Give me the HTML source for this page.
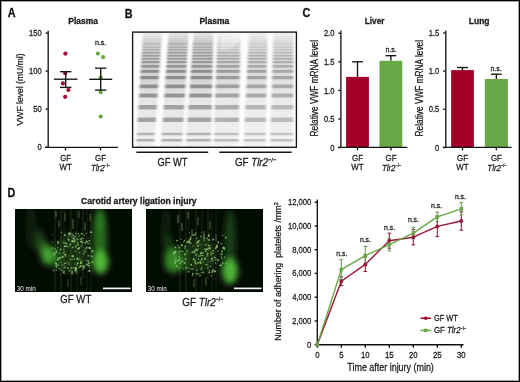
<!DOCTYPE html>
<html><head><meta charset="utf-8"><style>
html,body{margin:0;padding:0;background:#fff;}
svg{display:block;}
text{font-family:"Liberation Sans",sans-serif;stroke:#1a1a1a;stroke-width:0.26px;paint-order:stroke;}
text[font-weight="bold"]{stroke-width:0.3px;}
</style></head><body>
<svg xmlns="http://www.w3.org/2000/svg" width="520" height="382" viewBox="0 0 520 382">
<defs><filter id="soft" x="0" y="0" width="100%" height="100%" filterUnits="userSpaceOnUse"><feGaussianBlur stdDeviation="0.35"/></filter></defs>
<g filter="url(#soft)">
<rect width="520" height="382" fill="#fff"/>
<rect x="0.5" y="0.5" width="519" height="381" fill="none" stroke="#000" stroke-width="1"/><rect x="1.5" y="1.5" width="517" height="379" fill="none" stroke="#000" stroke-opacity="0.35" stroke-width="1"/><text transform="translate(7.7,17.2) scale(0.86,1)" font-size="12.6" text-anchor="start" font-weight="bold" font-style="normal" fill="#111" style="stroke:#111" >A</text><text transform="translate(124.7,17.5) scale(0.86,1)" font-size="12.6" text-anchor="start" font-weight="bold" font-style="normal" fill="#111" style="stroke:#111" >B</text><text transform="translate(302.5,17.0) scale(0.86,1)" font-size="12.6" text-anchor="start" font-weight="bold" font-style="normal" fill="#111" style="stroke:#111" >C</text><text transform="translate(7.6,196.9) scale(0.86,1)" font-size="12.6" text-anchor="start" font-weight="bold" font-style="normal" fill="#111" style="stroke:#111" >D</text><text x="83.1" y="24.0" font-size="8.9" text-anchor="middle" font-weight="bold" font-style="normal" fill="#1a1a1a" textLength="29.6" lengthAdjust="spacingAndGlyphs" >Plasma</text><line x1="48.2" y1="30.8" x2="48.2" y2="147.3" stroke="#151515" stroke-width="1.35"/><line x1="45.6" y1="33.1" x2="48.2" y2="33.1" stroke="#151515" stroke-width="1.35"/><text transform="translate(41.7,36.2) scale(0.87,1)" font-size="8.7" text-anchor="end" font-weight="normal" font-style="normal" fill="#1a1a1a" >150</text><line x1="45.6" y1="71.1" x2="48.2" y2="71.1" stroke="#151515" stroke-width="1.35"/><text transform="translate(41.7,74.19999999999999) scale(0.87,1)" font-size="8.7" text-anchor="end" font-weight="normal" font-style="normal" fill="#1a1a1a" >100</text><line x1="45.6" y1="109.1" x2="48.2" y2="109.1" stroke="#151515" stroke-width="1.35"/><text transform="translate(41.7,112.19999999999999) scale(0.87,1)" font-size="8.7" text-anchor="end" font-weight="normal" font-style="normal" fill="#1a1a1a" >50</text><line x1="45.6" y1="147.2" x2="48.2" y2="147.2" stroke="#151515" stroke-width="1.35"/><text transform="translate(41.7,150.29999999999998) scale(0.87,1)" font-size="8.7" text-anchor="end" font-weight="normal" font-style="normal" fill="#1a1a1a" >0</text><line x1="45.2" y1="147.3" x2="118" y2="147.3" stroke="#151515" stroke-width="1.35"/><line x1="65.5" y1="147.3" x2="65.5" y2="150.4" stroke="#151515" stroke-width="1.35"/><line x1="100.5" y1="147.3" x2="100.5" y2="150.4" stroke="#151515" stroke-width="1.35"/><text transform="translate(65.7,161.0) scale(0.85,1)" font-size="9.3" text-anchor="middle" font-weight="normal" font-style="normal" fill="#1a1a1a" >GF</text><text transform="translate(65.6,170.4) scale(0.85,1)" font-size="9.3" text-anchor="middle" font-weight="normal" font-style="normal" fill="#1a1a1a" >WT</text><text transform="translate(100.5,161.0) scale(0.85,1)" font-size="9.3" text-anchor="middle" font-weight="normal" font-style="normal" fill="#1a1a1a" >GF</text><text transform="translate(91.0,170.9) scale(0.85,1)" font-size="9.3" text-anchor="start" fill="#1a1a1a"><tspan font-style="italic">Tlr2</tspan><tspan font-size="4.65" dy="-3.6">&#8722;/&#8722;</tspan></text><text transform="translate(23.1,89.4) rotate(-90)" x="0" y="0" font-size="9.5" text-anchor="middle" fill="#1a1a1a" textLength="72" lengthAdjust="spacingAndGlyphs">VWF level (mU/ml)</text><text transform="translate(100.6,44.7) scale(0.94,1)" font-size="7.5" text-anchor="middle" font-weight="normal" font-style="normal" fill="#1a1a1a" >n.s.</text><circle cx="65.4" cy="53.6" r="2.1" fill="#a3002b"/><circle cx="65.2" cy="73.2" r="2.1" fill="#a3002b"/><circle cx="62.9" cy="83.4" r="2.1" fill="#a3002b"/><circle cx="68.4" cy="90" r="2.1" fill="#a3002b"/><circle cx="65.2" cy="96.8" r="2.1" fill="#a3002b"/><circle cx="97.9" cy="53.6" r="2.1" fill="#68a846"/><circle cx="103.1" cy="57.2" r="2.1" fill="#68a846"/><circle cx="100.7" cy="77.6" r="2.1" fill="#68a846"/><circle cx="100.7" cy="92.2" r="2.1" fill="#68a846"/><circle cx="100.7" cy="116.5" r="2.1" fill="#68a846"/><line x1="53.900000000000006" y1="79.2" x2="77.5" y2="79.2" stroke="#151515" stroke-width="1.35"/><line x1="65.7" y1="71.7" x2="65.7" y2="87.4" stroke="#151515" stroke-width="1.35"/><line x1="60.0" y1="71.7" x2="71.4" y2="71.7" stroke="#151515" stroke-width="1.35"/><line x1="60.0" y1="87.4" x2="71.4" y2="87.4" stroke="#151515" stroke-width="1.35"/><line x1="89.2" y1="79.3" x2="112.2" y2="79.3" stroke="#151515" stroke-width="1.35"/><line x1="100.7" y1="68.2" x2="100.7" y2="90.1" stroke="#151515" stroke-width="1.35"/><line x1="95.10000000000001" y1="68.2" x2="106.3" y2="68.2" stroke="#151515" stroke-width="1.35"/><line x1="95.10000000000001" y1="90.1" x2="106.3" y2="90.1" stroke="#151515" stroke-width="1.35"/><text x="214.3" y="24.3" font-size="8.9" text-anchor="middle" font-weight="bold" font-style="normal" fill="#1a1a1a" textLength="29.8" lengthAdjust="spacingAndGlyphs" >Plasma</text><defs><filter id="bl" x="-10%" y="-10%" width="120%" height="120%"><feGaussianBlur stdDeviation="1.15 0.5"/></filter><clipPath id="blotclip"><rect x="133" y="32.5" width="163" height="114.5"/></clipPath></defs><rect x="132.6" y="32.1" width="163.8" height="115.2" fill="#fcfcfc"/><g clip-path="url(#blotclip)" filter="url(#bl)"><linearGradient id="base0" x1="0" y1="32.5" x2="0" y2="147" gradientUnits="userSpaceOnUse"><stop offset="0" stop-color="#000" stop-opacity="0.064"/><stop offset="0.083" stop-color="#000" stop-opacity="0.176"/><stop offset="0.24" stop-color="#000" stop-opacity="0.220"/><stop offset="0.4" stop-color="#000" stop-opacity="0.160"/><stop offset="0.59" stop-color="#000" stop-opacity="0.090"/><stop offset="1" stop-color="#000" stop-opacity="0.050"/></linearGradient><polygon points="143.0,32.5 162.0,32.5 154.0,147 136.0,147" fill="url(#base0)"/><polygon points="142.3,43.2 161.2,43.2 161.2,44.5 142.3,44.5" fill="#000" fill-opacity="0.13"/><polygon points="142.1,46.5 161.0,46.5 160.9,47.8 142.1,47.8" fill="#000" fill-opacity="0.14"/><polygon points="142.0,49.2 160.8,49.2 160.7,50.5 141.9,50.5" fill="#000" fill-opacity="0.16"/><polygon points="141.8,52.0 160.6,52.0 160.5,53.4 141.7,53.4" fill="#000" fill-opacity="0.20"/><polygon points="141.6,55.0 160.4,55.0 160.3,56.5 141.5,56.5" fill="#000" fill-opacity="0.22"/><polygon points="141.4,58.0 160.2,58.0 160.1,59.6 141.3,59.6" fill="#000" fill-opacity="0.24"/><polygon points="141.2,61.2 160.0,61.2 159.9,63.0 141.1,63.0" fill="#000" fill-opacity="0.26"/><polygon points="141.0,65.3 159.7,65.3 159.6,67.5 140.9,67.5" fill="#000" fill-opacity="0.30"/><polygon points="140.7,70.1 159.4,70.1 159.2,72.7 140.5,72.7" fill="#000" fill-opacity="0.32"/><polygon points="140.3,76.1 159.0,76.1 158.7,79.3 140.1,79.3" fill="#000" fill-opacity="0.34"/><polygon points="139.8,84.4 158.4,84.4 158.1,88.2 139.6,88.2" fill="#000" fill-opacity="0.34"/><polygon points="139.3,93.4 157.7,93.4 157.5,97.4 139.0,97.4" fill="#000" fill-opacity="0.34"/><polygon points="138.6,105.1 156.9,105.1 156.6,109.5 138.3,109.5" fill="#000" fill-opacity="0.30"/><polygon points="137.8,117.5 156.1,117.5 155.7,122.1 137.5,122.1" fill="#000" fill-opacity="0.30"/><polygon points="136.9,132.7 155.0,132.7 154.8,135.3 136.7,135.3" fill="#000" fill-opacity="0.24"/><polygon points="136.5,139.0 154.6,139.0 154.4,141.6 136.3,141.6" fill="#000" fill-opacity="0.26"/><linearGradient id="base1" x1="0" y1="32.5" x2="0" y2="147" gradientUnits="userSpaceOnUse"><stop offset="0" stop-color="#000" stop-opacity="0.076"/><stop offset="0.083" stop-color="#000" stop-opacity="0.209"/><stop offset="0.24" stop-color="#000" stop-opacity="0.220"/><stop offset="0.4" stop-color="#000" stop-opacity="0.160"/><stop offset="0.59" stop-color="#000" stop-opacity="0.090"/><stop offset="1" stop-color="#000" stop-opacity="0.050"/></linearGradient><polygon points="168.6,32.5 188.5,32.5 182.0,147 161.0,147" fill="url(#base1)"/><polygon points="167.9,43.2 187.9,43.2 187.8,44.5 167.8,44.5" fill="#000" fill-opacity="0.14"/><polygon points="167.7,46.5 187.7,46.5 187.6,47.8 167.6,47.8" fill="#000" fill-opacity="0.16"/><polygon points="167.5,49.2 187.5,49.2 187.5,50.5 167.4,50.5" fill="#000" fill-opacity="0.18"/><polygon points="167.3,52.0 187.4,52.0 187.3,53.4 167.2,53.4" fill="#000" fill-opacity="0.20"/><polygon points="167.1,55.0 187.2,55.0 187.1,56.5 167.0,56.5" fill="#000" fill-opacity="0.22"/><polygon points="166.9,58.0 187.1,58.0 187.0,59.6 166.8,59.6" fill="#000" fill-opacity="0.24"/><polygon points="166.7,61.2 186.9,61.2 186.8,63.0 166.6,63.0" fill="#000" fill-opacity="0.26"/><polygon points="166.4,65.3 186.6,65.3 186.5,67.5 166.3,67.5" fill="#000" fill-opacity="0.30"/><polygon points="166.1,70.1 186.4,70.1 186.2,72.7 165.9,72.7" fill="#000" fill-opacity="0.32"/><polygon points="165.7,76.1 186.0,76.1 185.8,79.3 165.5,79.3" fill="#000" fill-opacity="0.34"/><polygon points="165.2,84.4 185.6,84.4 185.3,88.2 164.9,88.2" fill="#000" fill-opacity="0.34"/><polygon points="164.6,93.4 185.0,93.4 184.8,97.4 164.3,97.4" fill="#000" fill-opacity="0.34"/><polygon points="163.8,105.1 184.4,105.1 184.1,109.5 163.5,109.5" fill="#000" fill-opacity="0.30"/><polygon points="163.0,117.5 183.7,117.5 183.4,122.1 162.7,122.1" fill="#000" fill-opacity="0.30"/><polygon points="161.9,132.7 182.8,132.7 182.7,135.3 161.8,135.3" fill="#000" fill-opacity="0.24"/><polygon points="161.5,139.0 182.5,139.0 182.3,141.6 161.4,141.6" fill="#000" fill-opacity="0.26"/><linearGradient id="base2" x1="0" y1="32.5" x2="0" y2="147" gradientUnits="userSpaceOnUse"><stop offset="0" stop-color="#000" stop-opacity="0.076"/><stop offset="0.083" stop-color="#000" stop-opacity="0.209"/><stop offset="0.24" stop-color="#000" stop-opacity="0.220"/><stop offset="0.4" stop-color="#000" stop-opacity="0.160"/><stop offset="0.59" stop-color="#000" stop-opacity="0.090"/><stop offset="1" stop-color="#000" stop-opacity="0.050"/></linearGradient><polygon points="193.7,32.5 213.4,32.5 210.8,147 185.6,147" fill="url(#base2)"/><polygon points="192.9,43.2 213.2,43.2 213.1,44.5 192.8,44.5" fill="#000" fill-opacity="0.14"/><polygon points="192.7,46.5 213.1,46.5 213.1,47.8 192.6,47.8" fill="#000" fill-opacity="0.16"/><polygon points="192.5,49.2 213.0,49.2 213.0,50.5 192.4,50.5" fill="#000" fill-opacity="0.18"/><polygon points="192.3,52.0 213.0,52.0 212.9,53.4 192.2,53.4" fill="#000" fill-opacity="0.20"/><polygon points="192.1,55.0 212.9,55.0 212.9,56.5 192.0,56.5" fill="#000" fill-opacity="0.22"/><polygon points="191.9,58.0 212.8,58.0 212.8,59.6 191.8,59.6" fill="#000" fill-opacity="0.24"/><polygon points="191.7,61.2 212.7,61.2 212.7,63.0 191.5,63.0" fill="#000" fill-opacity="0.26"/><polygon points="191.4,65.3 212.7,65.3 212.6,67.5 191.2,67.5" fill="#000" fill-opacity="0.30"/><polygon points="191.0,70.1 212.5,70.1 212.5,72.7 190.9,72.7" fill="#000" fill-opacity="0.32"/><polygon points="190.6,76.1 212.4,76.1 212.3,79.3 190.4,79.3" fill="#000" fill-opacity="0.34"/><polygon points="190.0,84.4 212.2,84.4 212.1,88.2 189.8,88.2" fill="#000" fill-opacity="0.34"/><polygon points="189.4,93.4 212.0,93.4 211.9,97.4 189.1,97.4" fill="#000" fill-opacity="0.34"/><polygon points="188.6,105.1 211.8,105.1 211.7,109.5 188.3,109.5" fill="#000" fill-opacity="0.30"/><polygon points="187.7,117.5 211.5,117.5 211.4,122.1 187.4,122.1" fill="#000" fill-opacity="0.30"/><polygon points="186.6,132.7 211.1,132.7 211.1,135.3 186.4,135.3" fill="#000" fill-opacity="0.24"/><polygon points="186.2,139.0 211.0,139.0 210.9,141.6 186.0,141.6" fill="#000" fill-opacity="0.26"/><linearGradient id="base3" x1="0" y1="32.5" x2="0" y2="147" gradientUnits="userSpaceOnUse"><stop offset="0" stop-color="#000" stop-opacity="0.040"/><stop offset="0.083" stop-color="#000" stop-opacity="0.110"/><stop offset="0.24" stop-color="#000" stop-opacity="0.187"/><stop offset="0.4" stop-color="#000" stop-opacity="0.136"/><stop offset="0.59" stop-color="#000" stop-opacity="0.076"/><stop offset="1" stop-color="#000" stop-opacity="0.043"/></linearGradient><polygon points="217.5,32.5 240.5,32.5 238.5,147 213.5,147" fill="url(#base3)"/><polygon points="217.1,43.2 240.3,43.2 240.3,44.5 217.1,44.5" fill="#000" fill-opacity="0.08"/><polygon points="217.0,46.5 240.3,46.5 240.2,47.8 217.0,47.8" fill="#000" fill-opacity="0.10"/><polygon points="216.9,49.2 240.2,49.2 240.2,50.5 216.9,50.5" fill="#000" fill-opacity="0.11"/><polygon points="216.8,52.0 240.2,52.0 240.1,53.4 216.8,53.4" fill="#000" fill-opacity="0.17"/><polygon points="216.7,55.0 240.1,55.0 240.1,56.5 216.7,56.5" fill="#000" fill-opacity="0.19"/><polygon points="216.6,58.0 240.1,58.0 240.0,59.6 216.6,59.6" fill="#000" fill-opacity="0.20"/><polygon points="216.5,61.2 240.0,61.2 240.0,63.0 216.4,63.0" fill="#000" fill-opacity="0.22"/><polygon points="216.4,65.3 239.9,65.3 239.9,67.5 216.3,67.5" fill="#000" fill-opacity="0.26"/><polygon points="216.2,70.1 239.8,70.1 239.8,72.7 216.1,72.7" fill="#000" fill-opacity="0.27"/><polygon points="216.0,76.1 239.7,76.1 239.7,79.3 215.9,79.3" fill="#000" fill-opacity="0.29"/><polygon points="215.7,84.4 239.6,84.4 239.5,88.2 215.6,88.2" fill="#000" fill-opacity="0.29"/><polygon points="215.4,93.4 239.4,93.4 239.4,97.4 215.2,97.4" fill="#000" fill-opacity="0.29"/><polygon points="215.0,105.1 239.2,105.1 239.2,109.5 214.8,109.5" fill="#000" fill-opacity="0.26"/><polygon points="214.5,117.5 239.0,117.5 238.9,122.1 214.4,122.1" fill="#000" fill-opacity="0.26"/><polygon points="214.0,132.7 238.7,132.7 238.7,135.3 213.9,135.3" fill="#000" fill-opacity="0.20"/><polygon points="213.8,139.0 238.6,139.0 238.6,141.6 213.7,141.6" fill="#000" fill-opacity="0.22"/><linearGradient id="base4" x1="0" y1="32.5" x2="0" y2="147" gradientUnits="userSpaceOnUse"><stop offset="0" stop-color="#000" stop-opacity="0.048"/><stop offset="0.083" stop-color="#000" stop-opacity="0.132"/><stop offset="0.24" stop-color="#000" stop-opacity="0.172"/><stop offset="0.4" stop-color="#000" stop-opacity="0.125"/><stop offset="0.59" stop-color="#000" stop-opacity="0.070"/><stop offset="1" stop-color="#000" stop-opacity="0.039"/></linearGradient><polygon points="249.0,32.5 267.3,32.5 265.5,147 243.5,147" fill="url(#base4)"/><polygon points="248.5,43.2 267.1,43.2 267.1,44.5 248.4,44.5" fill="#000" fill-opacity="0.08"/><polygon points="248.3,46.5 267.1,46.5 267.1,47.8 248.3,47.8" fill="#000" fill-opacity="0.10"/><polygon points="248.2,49.2 267.0,49.2 267.0,50.5 248.1,50.5" fill="#000" fill-opacity="0.11"/><polygon points="248.1,52.0 267.0,52.0 267.0,53.4 248.0,53.4" fill="#000" fill-opacity="0.16"/><polygon points="247.9,55.0 266.9,55.0 266.9,56.5 247.8,56.5" fill="#000" fill-opacity="0.17"/><polygon points="247.8,58.0 266.9,58.0 266.9,59.6 247.7,59.6" fill="#000" fill-opacity="0.19"/><polygon points="247.6,61.2 266.8,61.2 266.8,63.0 247.5,63.0" fill="#000" fill-opacity="0.20"/><polygon points="247.4,65.3 266.8,65.3 266.7,67.5 247.3,67.5" fill="#000" fill-opacity="0.23"/><polygon points="247.2,70.1 266.7,70.1 266.7,72.7 247.1,72.7" fill="#000" fill-opacity="0.25"/><polygon points="246.9,76.1 266.6,76.1 266.6,79.3 246.8,79.3" fill="#000" fill-opacity="0.27"/><polygon points="246.5,84.4 266.5,84.4 266.4,88.2 246.3,88.2" fill="#000" fill-opacity="0.27"/><polygon points="246.1,93.4 266.3,93.4 266.3,97.4 245.9,97.4" fill="#000" fill-opacity="0.27"/><polygon points="245.5,105.1 266.2,105.1 266.1,109.5 245.3,109.5" fill="#000" fill-opacity="0.23"/><polygon points="244.9,117.5 266.0,117.5 265.9,122.1 244.7,122.1" fill="#000" fill-opacity="0.23"/><polygon points="244.2,132.7 265.7,132.7 265.7,135.3 244.1,135.3" fill="#000" fill-opacity="0.19"/><polygon points="243.9,139.0 265.6,139.0 265.6,141.6 243.8,141.6" fill="#000" fill-opacity="0.20"/><linearGradient id="base5" x1="0" y1="32.5" x2="0" y2="147" gradientUnits="userSpaceOnUse"><stop offset="0" stop-color="#000" stop-opacity="0.048"/><stop offset="0.083" stop-color="#000" stop-opacity="0.132"/><stop offset="0.24" stop-color="#000" stop-opacity="0.165"/><stop offset="0.4" stop-color="#000" stop-opacity="0.120"/><stop offset="0.59" stop-color="#000" stop-opacity="0.068"/><stop offset="1" stop-color="#000" stop-opacity="0.038"/></linearGradient><polygon points="273.5,32.5 293.5,32.5 293.0,147 270.0,147" fill="url(#base5)"/><polygon points="273.2,43.2 293.5,43.2 293.4,44.5 273.1,44.5" fill="#000" fill-opacity="0.08"/><polygon points="273.1,46.5 293.4,46.5 293.4,47.8 273.0,47.8" fill="#000" fill-opacity="0.09"/><polygon points="273.0,49.2 293.4,49.2 293.4,50.5 272.9,50.5" fill="#000" fill-opacity="0.10"/><polygon points="272.9,52.0 293.4,52.0 293.4,53.4 272.9,53.4" fill="#000" fill-opacity="0.15"/><polygon points="272.8,55.0 293.4,55.0 293.4,56.5 272.8,56.5" fill="#000" fill-opacity="0.17"/><polygon points="272.7,58.0 293.4,58.0 293.4,59.6 272.7,59.6" fill="#000" fill-opacity="0.18"/><polygon points="272.6,61.2 293.4,61.2 293.4,63.0 272.6,63.0" fill="#000" fill-opacity="0.20"/><polygon points="272.5,65.3 293.4,65.3 293.3,67.5 272.4,67.5" fill="#000" fill-opacity="0.22"/><polygon points="272.4,70.1 293.3,70.1 293.3,72.7 272.3,72.7" fill="#000" fill-opacity="0.24"/><polygon points="272.2,76.1 293.3,76.1 293.3,79.3 272.1,79.3" fill="#000" fill-opacity="0.26"/><polygon points="271.9,84.4 293.3,84.4 293.3,88.2 271.8,88.2" fill="#000" fill-opacity="0.26"/><polygon points="271.6,93.4 293.2,93.4 293.2,97.4 271.5,97.4" fill="#000" fill-opacity="0.26"/><polygon points="271.3,105.1 293.2,105.1 293.2,109.5 271.1,109.5" fill="#000" fill-opacity="0.22"/><polygon points="270.9,117.5 293.1,117.5 293.1,122.1 270.8,122.1" fill="#000" fill-opacity="0.22"/><polygon points="270.4,132.7 293.1,132.7 293.1,135.3 270.4,135.3" fill="#000" fill-opacity="0.18"/><polygon points="270.2,139.0 293.0,139.0 293.0,141.6 270.2,141.6" fill="#000" fill-opacity="0.20"/><polygon points="224,32.5 242,32.5 242,36 230,48 222,50" fill="#fff" fill-opacity="0.25"/></g><rect x="132.6" y="32.1" width="163.8" height="115.2" fill="none" stroke="#151515" stroke-width="1.35"/><line x1="136.4" y1="152.2" x2="208.2" y2="152.2" stroke="#151515" stroke-width="1.35"/><line x1="219.3" y1="152.2" x2="291.6" y2="152.2" stroke="#151515" stroke-width="1.35"/><text x="172.4" y="165.6" font-size="10.6" text-anchor="middle" font-weight="normal" font-style="normal" fill="#1a1a1a" textLength="30.0" lengthAdjust="spacingAndGlyphs" >GF WT</text><text transform="translate(235.0,165.8) scale(0.92,1)" font-size="10.6" text-anchor="start" fill="#1a1a1a"><tspan>GF </tspan><tspan font-style="italic">Tlr2</tspan><tspan font-size="6.15" dy="-4.0">&#8722;/&#8722;</tspan></text><text x="374.6" y="23.8" font-size="8.8" text-anchor="middle" font-weight="bold" font-style="normal" fill="#1a1a1a" textLength="19.5" lengthAdjust="spacingAndGlyphs" >Liver</text><line x1="340.9" y1="30.6" x2="340.9" y2="147.5" stroke="#151515" stroke-width="1.35"/><line x1="338.29999999999995" y1="33.2" x2="340.9" y2="33.2" stroke="#151515" stroke-width="1.35"/><text transform="translate(334.4,36.300000000000004) scale(0.87,1)" font-size="8.7" text-anchor="end" font-weight="normal" font-style="normal" fill="#1a1a1a" >2.0</text><line x1="338.29999999999995" y1="61.8" x2="340.9" y2="61.8" stroke="#151515" stroke-width="1.35"/><text transform="translate(334.4,64.89999999999999) scale(0.87,1)" font-size="8.7" text-anchor="end" font-weight="normal" font-style="normal" fill="#1a1a1a" >1.5</text><line x1="338.29999999999995" y1="90.4" x2="340.9" y2="90.4" stroke="#151515" stroke-width="1.35"/><text transform="translate(334.4,93.5) scale(0.87,1)" font-size="8.7" text-anchor="end" font-weight="normal" font-style="normal" fill="#1a1a1a" >1.0</text><line x1="338.29999999999995" y1="119.0" x2="340.9" y2="119.0" stroke="#151515" stroke-width="1.35"/><text transform="translate(334.4,122.1) scale(0.87,1)" font-size="8.7" text-anchor="end" font-weight="normal" font-style="normal" fill="#1a1a1a" >0.5</text><line x1="338.29999999999995" y1="147.5" x2="340.9" y2="147.5" stroke="#151515" stroke-width="1.35"/><text transform="translate(334.4,150.6) scale(0.87,1)" font-size="8.7" text-anchor="end" font-weight="normal" font-style="normal" fill="#1a1a1a" >0</text><line x1="357.5" y1="61.8" x2="357.5" y2="76.9" stroke="#151515" stroke-width="1.35"/><line x1="352.1" y1="61.8" x2="362.9" y2="61.8" stroke="#151515" stroke-width="1.35"/><rect x="346.1" y="76.9" width="22.799999999999955" height="70.6" fill="#a3002b"/><line x1="390.9" y1="55.7" x2="390.9" y2="60.8" stroke="#151515" stroke-width="1.35"/><line x1="385.5" y1="55.7" x2="396.29999999999995" y2="55.7" stroke="#151515" stroke-width="1.35"/><rect x="379.5" y="60.8" width="22.80000000000001" height="86.7" fill="#68a846"/><line x1="337.9" y1="147.4" x2="407.4" y2="147.4" stroke="#151515" stroke-width="1.35"/><line x1="357.5" y1="147.4" x2="357.5" y2="150.4" stroke="#151515" stroke-width="1.35"/><text transform="translate(357.6,161.0) scale(0.85,1)" font-size="9.3" text-anchor="middle" font-weight="normal" font-style="normal" fill="#1a1a1a" >GF</text><line x1="390.9" y1="147.4" x2="390.9" y2="150.4" stroke="#151515" stroke-width="1.35"/><text transform="translate(391.0,161.0) scale(0.85,1)" font-size="9.3" text-anchor="middle" font-weight="normal" font-style="normal" fill="#1a1a1a" >GF</text><text transform="translate(357.5,170.4) scale(0.85,1)" font-size="9.3" text-anchor="middle" font-weight="normal" font-style="normal" fill="#1a1a1a" >WT</text><text transform="translate(381.9,170.9) scale(0.85,1)" font-size="9.3" text-anchor="start" fill="#1a1a1a"><tspan font-style="italic">Tlr2</tspan><tspan font-size="4.65" dy="-3.6">&#8722;/&#8722;</tspan></text><text transform="translate(318.2,88.2) rotate(-90)" font-size="10.1" text-anchor="middle" fill="#1a1a1a" textLength="96.5" lengthAdjust="spacingAndGlyphs">Relative VWF mRNA level</text><text transform="translate(391.1,52.3) scale(0.94,1)" font-size="7.5" text-anchor="middle" font-weight="normal" font-style="normal" fill="#1a1a1a" >n.s.</text><text x="479.2" y="23.8" font-size="8.8" text-anchor="middle" font-weight="bold" font-style="normal" fill="#1a1a1a" textLength="20.7" lengthAdjust="spacingAndGlyphs" >Lung</text><line x1="445.8" y1="30.6" x2="445.8" y2="147.5" stroke="#151515" stroke-width="1.35"/><line x1="443.2" y1="33.0" x2="445.8" y2="33.0" stroke="#151515" stroke-width="1.35"/><text transform="translate(439.3,36.1) scale(0.87,1)" font-size="8.7" text-anchor="end" font-weight="normal" font-style="normal" fill="#1a1a1a" >1.5</text><line x1="443.2" y1="71.1" x2="445.8" y2="71.1" stroke="#151515" stroke-width="1.35"/><text transform="translate(439.3,74.19999999999999) scale(0.87,1)" font-size="8.7" text-anchor="end" font-weight="normal" font-style="normal" fill="#1a1a1a" >1.0</text><line x1="443.2" y1="109.3" x2="445.8" y2="109.3" stroke="#151515" stroke-width="1.35"/><text transform="translate(439.3,112.39999999999999) scale(0.87,1)" font-size="8.7" text-anchor="end" font-weight="normal" font-style="normal" fill="#1a1a1a" >0.5</text><line x1="443.2" y1="147.5" x2="445.8" y2="147.5" stroke="#151515" stroke-width="1.35"/><text transform="translate(439.3,150.6) scale(0.87,1)" font-size="8.7" text-anchor="end" font-weight="normal" font-style="normal" fill="#1a1a1a" >0</text><line x1="462.5" y1="67.5" x2="462.5" y2="70.1" stroke="#151515" stroke-width="1.35"/><line x1="457.1" y1="67.5" x2="467.9" y2="67.5" stroke="#151515" stroke-width="1.35"/><rect x="451.1" y="70.1" width="22.799999999999955" height="77.4" fill="#a3002b"/><line x1="496.35" y1="74.2" x2="496.35" y2="79.0" stroke="#151515" stroke-width="1.35"/><line x1="490.95000000000005" y1="74.2" x2="501.75" y2="74.2" stroke="#151515" stroke-width="1.35"/><rect x="484.8" y="79.0" width="23.099999999999966" height="68.5" fill="#68a846"/><line x1="442.8" y1="147.4" x2="511.6" y2="147.4" stroke="#151515" stroke-width="1.35"/><line x1="462.5" y1="147.4" x2="462.5" y2="150.4" stroke="#151515" stroke-width="1.35"/><text transform="translate(462.6,161.0) scale(0.85,1)" font-size="9.3" text-anchor="middle" font-weight="normal" font-style="normal" fill="#1a1a1a" >GF</text><line x1="496.35" y1="147.4" x2="496.35" y2="150.4" stroke="#151515" stroke-width="1.35"/><text transform="translate(496.45000000000005,161.0) scale(0.85,1)" font-size="9.3" text-anchor="middle" font-weight="normal" font-style="normal" fill="#1a1a1a" >GF</text><text transform="translate(462.5,170.4) scale(0.85,1)" font-size="9.3" text-anchor="middle" font-weight="normal" font-style="normal" fill="#1a1a1a" >WT</text><text transform="translate(487.35,170.9) scale(0.85,1)" font-size="9.3" text-anchor="start" fill="#1a1a1a"><tspan font-style="italic">Tlr2</tspan><tspan font-size="4.65" dy="-3.6">&#8722;/&#8722;</tspan></text><text transform="translate(422.8,88.2) rotate(-90)" font-size="10.1" text-anchor="middle" fill="#1a1a1a" textLength="96.5" lengthAdjust="spacingAndGlyphs">Relative VWF mRNA level</text><text transform="translate(496.1,71.0) scale(0.94,1)" font-size="7.5" text-anchor="middle" font-weight="normal" font-style="normal" fill="#1a1a1a" >n.s.</text><text x="138.8" y="203.7" font-size="9.0" text-anchor="middle" font-weight="bold" font-style="normal" fill="#1a1a1a" textLength="115.6" lengthAdjust="spacingAndGlyphs" >Carotid artery ligation injury</text><defs><filter id="g1" x="-50%" y="-50%" width="200%" height="200%"><feGaussianBlur stdDeviation="4"/></filter><filter id="g2" x="-50%" y="-50%" width="200%" height="200%"><feGaussianBlur stdDeviation="3.2"/></filter><filter id="g3" x="-50%" y="-50%" width="200%" height="200%"><feGaussianBlur stdDeviation="0.55"/></filter><clipPath id="im1"><rect x="15" y="209" width="117" height="83"/></clipPath><clipPath id="im2"><rect x="146" y="209" width="117" height="83"/></clipPath></defs><g clip-path="url(#im1)"><rect x="15" y="209" width="117" height="83" fill="#040704"/><g filter="url(#g2)"><ellipse cx="31" cy="227" rx="6" ry="24" fill="#173a12" fill-opacity="0.5"/><ellipse cx="40" cy="241" rx="5" ry="12" fill="#24601a" fill-opacity="0.6"/><ellipse cx="48" cy="255" rx="7" ry="10" fill="#4fb838" fill-opacity="0.9"/><ellipse cx="43" cy="247" rx="4" ry="8" fill="#3a8a2a" fill-opacity="0.5"/><ellipse cx="56" cy="261" rx="6" ry="8" fill="#2f7f24" fill-opacity="0.55"/><ellipse cx="100" cy="237" rx="7" ry="30" fill="#32902a" fill-opacity="0.75"/><ellipse cx="100" cy="221" rx="5" ry="9" fill="#33902a" fill-opacity="0.55"/><ellipse cx="100.5" cy="262" rx="8" ry="12" fill="#56c63e" fill-opacity="0.9"/><ellipse cx="72" cy="253" rx="16" ry="21" fill="#1f4a16" fill-opacity="0.55"/></g><g filter="url(#g3)"><line x1="55" y1="209" x2="55" y2="292" stroke="#8fc860" stroke-opacity="0.26" stroke-width="0.8"/><line x1="61" y1="209" x2="61" y2="292" stroke="#8fc860" stroke-opacity="0.28" stroke-width="0.8"/><line x1="64" y1="209" x2="64" y2="269" stroke="#8fc860" stroke-opacity="0.22" stroke-width="0.8"/><line x1="71" y1="209" x2="71" y2="292" stroke="#8fc860" stroke-opacity="0.26" stroke-width="0.8"/><line x1="77" y1="209" x2="77" y2="292" stroke="#8fc860" stroke-opacity="0.2" stroke-width="0.8"/><line x1="83" y1="209" x2="83" y2="279" stroke="#8fc860" stroke-opacity="0.26" stroke-width="0.8"/><line x1="87" y1="209" x2="87" y2="292" stroke="#8fc860" stroke-opacity="0.18" stroke-width="0.8"/><line x1="91" y1="209" x2="91" y2="292" stroke="#8fc860" stroke-opacity="0.22" stroke-width="0.8"/><line x1="56" y1="211" x2="56" y2="217" stroke="#a0d880" stroke-opacity="0.5" stroke-width="1.1"/><line x1="59" y1="221" x2="59" y2="227" stroke="#a0d880" stroke-opacity="0.45" stroke-width="1.1"/><line x1="65" y1="213" x2="65" y2="221" stroke="#a0d880" stroke-opacity="0.4" stroke-width="1.1"/><line x1="73" y1="219" x2="73" y2="229" stroke="#a0d880" stroke-opacity="0.45" stroke-width="1.1"/><line x1="79" y1="211" x2="79" y2="218" stroke="#a0d880" stroke-opacity="0.4" stroke-width="1.1"/><line x1="85" y1="223" x2="85" y2="231" stroke="#a0d880" stroke-opacity="0.45" stroke-width="1.1"/><line x1="90" y1="214" x2="90" y2="221" stroke="#a0d880" stroke-opacity="0.4" stroke-width="1.1"/><line x1="68" y1="279" x2="68" y2="287" stroke="#a0d880" stroke-opacity="0.35" stroke-width="1.1"/><line x1="81" y1="277" x2="81" y2="285" stroke="#a0d880" stroke-opacity="0.35" stroke-width="1.1"/><circle cx="56.6" cy="267.6" r="0.73" fill="#98d47c" fill-opacity="0.62"/><circle cx="69.9" cy="259.4" r="0.99" fill="#98d47c" fill-opacity="0.40"/><circle cx="81.3" cy="241.6" r="1.07" fill="#98d47c" fill-opacity="0.85"/><circle cx="90.4" cy="248.0" r="0.71" fill="#98d47c" fill-opacity="0.58"/><circle cx="71.8" cy="241.8" r="0.72" fill="#98d47c" fill-opacity="0.47"/><circle cx="70.3" cy="244.2" r="0.61" fill="#98d47c" fill-opacity="0.81"/><circle cx="74.4" cy="259.0" r="0.69" fill="#98d47c" fill-opacity="0.90"/><circle cx="81.3" cy="261.9" r="1.07" fill="#98d47c" fill-opacity="0.58"/><circle cx="85.9" cy="260.2" r="0.75" fill="#98d47c" fill-opacity="0.67"/><circle cx="75.7" cy="233.5" r="0.72" fill="#98d47c" fill-opacity="0.79"/><circle cx="68.4" cy="239.3" r="0.87" fill="#98d47c" fill-opacity="0.74"/><circle cx="79.3" cy="247.7" r="0.82" fill="#98d47c" fill-opacity="0.63"/><circle cx="83.7" cy="253.9" r="0.80" fill="#98d47c" fill-opacity="0.62"/><circle cx="92.3" cy="256.9" r="0.80" fill="#98d47c" fill-opacity="0.44"/><circle cx="72.1" cy="273.2" r="0.99" fill="#98d47c" fill-opacity="0.65"/><circle cx="87.1" cy="241.8" r="0.86" fill="#98d47c" fill-opacity="0.87"/><circle cx="75.3" cy="251.3" r="0.73" fill="#98d47c" fill-opacity="0.65"/><circle cx="91.2" cy="232.2" r="1.01" fill="#98d47c" fill-opacity="0.84"/><circle cx="82.1" cy="266.0" r="0.86" fill="#98d47c" fill-opacity="0.66"/><circle cx="68.9" cy="234.4" r="1.04" fill="#98d47c" fill-opacity="0.66"/><circle cx="59.4" cy="253.2" r="0.84" fill="#98d47c" fill-opacity="0.55"/><circle cx="65.5" cy="254.6" r="0.91" fill="#98d47c" fill-opacity="0.69"/><circle cx="70.2" cy="233.2" r="0.71" fill="#98d47c" fill-opacity="0.45"/><circle cx="75.5" cy="268.2" r="1.00" fill="#98d47c" fill-opacity="0.79"/><circle cx="85.3" cy="242.7" r="1.02" fill="#98d47c" fill-opacity="0.72"/><circle cx="82.7" cy="242.5" r="0.65" fill="#98d47c" fill-opacity="0.69"/><circle cx="65.5" cy="234.9" r="0.68" fill="#98d47c" fill-opacity="0.64"/><circle cx="58.1" cy="243.5" r="0.96" fill="#98d47c" fill-opacity="0.60"/><circle cx="64.5" cy="251.9" r="0.61" fill="#98d47c" fill-opacity="0.56"/><circle cx="68.7" cy="239.9" r="0.65" fill="#98d47c" fill-opacity="0.84"/><circle cx="72.4" cy="240.8" r="0.90" fill="#98d47c" fill-opacity="0.80"/><circle cx="81.2" cy="238.7" r="0.95" fill="#98d47c" fill-opacity="0.72"/><circle cx="73.9" cy="241.3" r="1.09" fill="#98d47c" fill-opacity="0.79"/><circle cx="72.7" cy="241.4" r="0.92" fill="#98d47c" fill-opacity="0.57"/><circle cx="75.2" cy="245.5" r="0.92" fill="#98d47c" fill-opacity="0.38"/><circle cx="63.5" cy="272.7" r="0.75" fill="#98d47c" fill-opacity="0.82"/><circle cx="64.0" cy="271.5" r="0.97" fill="#98d47c" fill-opacity="0.58"/><circle cx="61.6" cy="232.4" r="0.62" fill="#98d47c" fill-opacity="0.80"/><circle cx="91.4" cy="256.0" r="0.69" fill="#98d47c" fill-opacity="0.83"/><circle cx="66.9" cy="246.6" r="0.70" fill="#98d47c" fill-opacity="0.72"/><circle cx="69.2" cy="240.2" r="0.65" fill="#98d47c" fill-opacity="0.72"/><circle cx="63.4" cy="253.0" r="0.76" fill="#98d47c" fill-opacity="0.83"/><circle cx="64.8" cy="273.5" r="0.77" fill="#98d47c" fill-opacity="0.47"/><circle cx="79.3" cy="267.2" r="1.07" fill="#98d47c" fill-opacity="0.54"/><circle cx="88.1" cy="260.9" r="0.84" fill="#98d47c" fill-opacity="0.89"/><circle cx="60.9" cy="262.5" r="0.64" fill="#98d47c" fill-opacity="0.44"/><circle cx="89.3" cy="240.9" r="0.90" fill="#98d47c" fill-opacity="0.81"/><circle cx="66.5" cy="246.3" r="0.75" fill="#98d47c" fill-opacity="0.83"/><circle cx="76.4" cy="272.1" r="1.04" fill="#98d47c" fill-opacity="0.42"/><circle cx="74.1" cy="236.4" r="0.62" fill="#98d47c" fill-opacity="0.39"/><circle cx="87.4" cy="265.1" r="1.01" fill="#98d47c" fill-opacity="0.54"/><circle cx="76.8" cy="264.8" r="0.79" fill="#98d47c" fill-opacity="0.66"/><circle cx="88.4" cy="255.7" r="1.06" fill="#98d47c" fill-opacity="0.60"/><circle cx="62.6" cy="265.1" r="1.01" fill="#98d47c" fill-opacity="0.36"/><circle cx="79.2" cy="235.9" r="0.66" fill="#98d47c" fill-opacity="0.84"/><circle cx="52.7" cy="242.1" r="0.81" fill="#98d47c" fill-opacity="0.41"/><circle cx="58.0" cy="242.1" r="0.97" fill="#98d47c" fill-opacity="0.41"/><circle cx="89.3" cy="247.9" r="1.09" fill="#98d47c" fill-opacity="0.85"/><circle cx="63.3" cy="242.6" r="0.84" fill="#98d47c" fill-opacity="0.41"/><circle cx="78.4" cy="233.7" r="0.61" fill="#98d47c" fill-opacity="0.89"/><circle cx="63.4" cy="257.1" r="0.82" fill="#98d47c" fill-opacity="0.52"/><circle cx="53.6" cy="270.4" r="1.08" fill="#98d47c" fill-opacity="0.41"/><circle cx="60.0" cy="257.9" r="1.09" fill="#98d47c" fill-opacity="0.65"/><circle cx="79.9" cy="259.8" r="0.73" fill="#98d47c" fill-opacity="0.65"/><circle cx="63.9" cy="242.3" r="0.64" fill="#98d47c" fill-opacity="0.50"/><circle cx="92.3" cy="250.8" r="0.93" fill="#98d47c" fill-opacity="0.70"/><circle cx="90.5" cy="248.4" r="0.75" fill="#98d47c" fill-opacity="0.53"/><circle cx="64.3" cy="267.6" r="1.05" fill="#98d47c" fill-opacity="0.52"/><circle cx="65.0" cy="254.9" r="0.89" fill="#98d47c" fill-opacity="0.68"/><circle cx="54.0" cy="255.2" r="0.64" fill="#98d47c" fill-opacity="0.39"/><circle cx="77.7" cy="244.2" r="1.00" fill="#98d47c" fill-opacity="0.62"/><circle cx="84.4" cy="235.2" r="0.69" fill="#98d47c" fill-opacity="0.78"/><circle cx="55.5" cy="253.6" r="1.06" fill="#98d47c" fill-opacity="0.51"/><circle cx="88.5" cy="238.0" r="0.62" fill="#98d47c" fill-opacity="0.52"/><circle cx="88.9" cy="265.8" r="1.02" fill="#98d47c" fill-opacity="0.76"/><circle cx="80.0" cy="239.5" r="0.82" fill="#98d47c" fill-opacity="0.44"/><circle cx="81.0" cy="260.0" r="0.73" fill="#98d47c" fill-opacity="0.39"/><circle cx="73.7" cy="267.8" r="0.83" fill="#98d47c" fill-opacity="0.57"/><circle cx="65.2" cy="242.8" r="0.61" fill="#98d47c" fill-opacity="0.71"/><circle cx="68.5" cy="256.0" r="0.63" fill="#98d47c" fill-opacity="0.55"/><circle cx="85.8" cy="248.7" r="0.80" fill="#98d47c" fill-opacity="0.69"/><circle cx="72.0" cy="259.3" r="0.82" fill="#98d47c" fill-opacity="0.73"/><circle cx="81.7" cy="242.0" r="0.85" fill="#98d47c" fill-opacity="0.61"/><circle cx="60.5" cy="249.3" r="0.88" fill="#98d47c" fill-opacity="0.85"/><circle cx="89.5" cy="243.6" r="0.92" fill="#98d47c" fill-opacity="0.38"/><circle cx="54.0" cy="253.5" r="1.04" fill="#98d47c" fill-opacity="0.44"/><circle cx="83.2" cy="269.1" r="0.76" fill="#98d47c" fill-opacity="0.73"/><circle cx="86.7" cy="247.6" r="0.95" fill="#98d47c" fill-opacity="0.76"/><circle cx="76.0" cy="268.0" r="1.05" fill="#98d47c" fill-opacity="0.88"/><circle cx="75.0" cy="239.4" r="0.73" fill="#98d47c" fill-opacity="0.47"/><circle cx="74.9" cy="263.8" r="0.63" fill="#98d47c" fill-opacity="0.72"/><circle cx="81.1" cy="246.6" r="0.86" fill="#98d47c" fill-opacity="0.44"/><circle cx="81.7" cy="233.7" r="1.00" fill="#98d47c" fill-opacity="0.70"/><circle cx="62.2" cy="270.3" r="1.08" fill="#98d47c" fill-opacity="0.43"/><circle cx="83.6" cy="267.4" r="0.93" fill="#98d47c" fill-opacity="0.74"/><circle cx="69.7" cy="270.8" r="1.09" fill="#98d47c" fill-opacity="0.56"/><circle cx="84.7" cy="250.2" r="0.68" fill="#98d47c" fill-opacity="0.53"/><circle cx="56.3" cy="270.2" r="0.66" fill="#98d47c" fill-opacity="0.68"/><circle cx="68.1" cy="237.0" r="0.75" fill="#98d47c" fill-opacity="0.49"/><circle cx="69.4" cy="232.9" r="0.91" fill="#98d47c" fill-opacity="0.68"/><circle cx="86.1" cy="240.7" r="0.74" fill="#98d47c" fill-opacity="0.65"/><circle cx="62.5" cy="256.6" r="0.73" fill="#98d47c" fill-opacity="0.73"/><circle cx="84.2" cy="266.0" r="1.09" fill="#98d47c" fill-opacity="0.65"/><circle cx="71.6" cy="267.9" r="0.98" fill="#98d47c" fill-opacity="0.66"/><circle cx="67.1" cy="243.9" r="0.65" fill="#98d47c" fill-opacity="0.79"/><circle cx="56.0" cy="263.4" r="0.87" fill="#98d47c" fill-opacity="0.88"/><circle cx="72.0" cy="256.0" r="0.76" fill="#98d47c" fill-opacity="0.63"/><circle cx="66.0" cy="254.2" r="0.60" fill="#98d47c" fill-opacity="0.59"/><circle cx="69.9" cy="244.8" r="0.80" fill="#98d47c" fill-opacity="0.78"/><circle cx="79.7" cy="252.7" r="0.92" fill="#98d47c" fill-opacity="0.56"/><circle cx="76.1" cy="269.0" r="1.01" fill="#98d47c" fill-opacity="0.63"/><circle cx="92.5" cy="251.4" r="1.02" fill="#98d47c" fill-opacity="0.57"/><circle cx="58.2" cy="258.0" r="0.87" fill="#98d47c" fill-opacity="0.55"/><circle cx="68.0" cy="268.2" r="0.89" fill="#98d47c" fill-opacity="0.75"/><circle cx="88.7" cy="263.4" r="0.85" fill="#98d47c" fill-opacity="0.76"/><circle cx="77.9" cy="259.2" r="0.91" fill="#98d47c" fill-opacity="0.57"/><circle cx="77.4" cy="258.6" r="1.07" fill="#98d47c" fill-opacity="0.78"/><circle cx="86.5" cy="264.2" r="1.01" fill="#98d47c" fill-opacity="0.68"/><circle cx="65.7" cy="243.1" r="0.95" fill="#98d47c" fill-opacity="0.83"/><circle cx="73.9" cy="238.4" r="1.02" fill="#98d47c" fill-opacity="0.62"/><circle cx="70.6" cy="233.9" r="0.86" fill="#98d47c" fill-opacity="0.76"/><circle cx="68.7" cy="246.9" r="0.93" fill="#98d47c" fill-opacity="0.36"/><circle cx="72.3" cy="271.7" r="0.95" fill="#98d47c" fill-opacity="0.57"/><circle cx="79.9" cy="257.4" r="0.70" fill="#98d47c" fill-opacity="0.46"/><circle cx="88.2" cy="243.3" r="0.64" fill="#98d47c" fill-opacity="0.81"/><circle cx="73.0" cy="247.5" r="0.86" fill="#98d47c" fill-opacity="0.76"/><circle cx="58.1" cy="259.4" r="0.96" fill="#98d47c" fill-opacity="0.80"/><circle cx="62.3" cy="257.6" r="0.72" fill="#98d47c" fill-opacity="0.66"/><circle cx="58.2" cy="265.2" r="1.03" fill="#98d47c" fill-opacity="0.53"/><circle cx="86.4" cy="233.3" r="0.91" fill="#98d47c" fill-opacity="0.52"/><circle cx="69.1" cy="264.0" r="0.99" fill="#98d47c" fill-opacity="0.45"/><circle cx="77.3" cy="239.0" r="1.09" fill="#98d47c" fill-opacity="0.59"/><circle cx="89.4" cy="262.6" r="0.90" fill="#98d47c" fill-opacity="0.49"/><circle cx="73.1" cy="237.8" r="0.67" fill="#98d47c" fill-opacity="0.74"/><circle cx="66.2" cy="263.6" r="0.72" fill="#98d47c" fill-opacity="0.74"/><circle cx="81.2" cy="244.8" r="0.65" fill="#98d47c" fill-opacity="0.57"/><circle cx="71.7" cy="236.2" r="0.69" fill="#98d47c" fill-opacity="0.38"/><circle cx="76.1" cy="269.3" r="0.71" fill="#98d47c" fill-opacity="0.37"/><circle cx="80.6" cy="266.2" r="1.08" fill="#98d47c" fill-opacity="0.69"/><circle cx="65.4" cy="267.2" r="0.66" fill="#98d47c" fill-opacity="0.73"/><circle cx="55.0" cy="248.8" r="0.85" fill="#98d47c" fill-opacity="0.56"/><circle cx="58.1" cy="241.7" r="1.01" fill="#98d47c" fill-opacity="0.60"/><circle cx="75.4" cy="240.9" r="0.96" fill="#98d47c" fill-opacity="0.53"/><circle cx="75.9" cy="270.2" r="1.10" fill="#98d47c" fill-opacity="0.38"/><circle cx="84.5" cy="268.0" r="0.76" fill="#98d47c" fill-opacity="0.56"/><circle cx="75.4" cy="270.6" r="0.80" fill="#98d47c" fill-opacity="0.83"/><circle cx="82.9" cy="238.4" r="1.06" fill="#98d47c" fill-opacity="0.36"/><circle cx="57.1" cy="259.9" r="0.63" fill="#98d47c" fill-opacity="0.56"/><circle cx="56.5" cy="251.4" r="1.02" fill="#98d47c" fill-opacity="0.85"/><circle cx="52.5" cy="234.6" r="0.62" fill="#98d47c" fill-opacity="0.50"/><circle cx="77.8" cy="263.3" r="0.94" fill="#98d47c" fill-opacity="0.82"/><circle cx="78.8" cy="248.4" r="0.92" fill="#98d47c" fill-opacity="0.88"/><circle cx="77.9" cy="242.2" r="0.63" fill="#98d47c" fill-opacity="0.86"/><circle cx="75.8" cy="246.7" r="0.90" fill="#98d47c" fill-opacity="0.66"/><circle cx="72.9" cy="234.6" r="0.78" fill="#98d47c" fill-opacity="0.58"/><circle cx="59.4" cy="269.0" r="0.81" fill="#98d47c" fill-opacity="0.71"/><circle cx="81.0" cy="263.2" r="0.96" fill="#98d47c" fill-opacity="0.76"/><circle cx="89.6" cy="267.9" r="0.63" fill="#98d47c" fill-opacity="0.40"/><circle cx="85.1" cy="251.7" r="0.79" fill="#98d47c" fill-opacity="0.89"/><circle cx="52.7" cy="254.3" r="0.82" fill="#98d47c" fill-opacity="0.42"/><circle cx="67.6" cy="261.7" r="1.04" fill="#98d47c" fill-opacity="0.36"/><circle cx="73.0" cy="235.8" r="1.00" fill="#98d47c" fill-opacity="0.40"/><circle cx="52.4" cy="248.1" r="0.97" fill="#98d47c" fill-opacity="0.52"/><circle cx="56.5" cy="265.4" r="1.00" fill="#98d47c" fill-opacity="0.82"/><circle cx="63.8" cy="249.8" r="0.72" fill="#98d47c" fill-opacity="0.66"/><circle cx="64.9" cy="246.2" r="0.99" fill="#98d47c" fill-opacity="0.88"/><circle cx="75.5" cy="236.4" r="0.93" fill="#98d47c" fill-opacity="0.60"/><circle cx="92.5" cy="262.2" r="0.95" fill="#98d47c" fill-opacity="0.64"/><circle cx="57.6" cy="247.6" r="0.86" fill="#98d47c" fill-opacity="0.40"/><circle cx="65.5" cy="256.1" r="0.62" fill="#98d47c" fill-opacity="0.80"/><circle cx="78.3" cy="245.2" r="0.75" fill="#98d47c" fill-opacity="0.54"/><circle cx="64.7" cy="263.4" r="0.85" fill="#98d47c" fill-opacity="0.64"/><circle cx="64.8" cy="234.9" r="1.09" fill="#98d47c" fill-opacity="0.61"/><circle cx="89.3" cy="271.0" r="1.01" fill="#98d47c" fill-opacity="0.86"/><circle cx="73.0" cy="256.2" r="1.10" fill="#98d47c" fill-opacity="0.78"/><circle cx="80.5" cy="263.4" r="0.78" fill="#98d47c" fill-opacity="0.87"/><circle cx="78.0" cy="248.9" r="0.83" fill="#98d47c" fill-opacity="0.89"/><circle cx="73.3" cy="239.0" r="0.67" fill="#98d47c" fill-opacity="0.73"/><circle cx="74.6" cy="270.1" r="0.69" fill="#98d47c" fill-opacity="0.58"/><circle cx="73.9" cy="243.2" r="0.65" fill="#98d47c" fill-opacity="0.49"/></g></g><text x="16.8" y="290.6" font-size="6.6" fill="#f0f0f0" textLength="19" lengthAdjust="spacingAndGlyphs" style="stroke:none">30 min</text><line x1="103" y1="288.4" x2="130.6" y2="288.4" stroke="#f4f4f4" stroke-width="1.7"/><g clip-path="url(#im2)"><rect x="146" y="209" width="117" height="83" fill="#040704"/><g filter="url(#g2)"><ellipse cx="166" cy="227" rx="5" ry="20" fill="#163812" fill-opacity="0.55"/><ellipse cx="173" cy="260" rx="9" ry="13" fill="#3ea030" fill-opacity="0.85"/><ellipse cx="168" cy="243" rx="5" ry="9" fill="#245e1a" fill-opacity="0.45"/><ellipse cx="182" cy="264" rx="6" ry="8" fill="#2f7f24" fill-opacity="0.5"/><ellipse cx="230" cy="239" rx="6" ry="30" fill="#1f601a" fill-opacity="0.65"/><ellipse cx="230" cy="271" rx="8" ry="13" fill="#56c63e" fill-opacity="0.9"/><ellipse cx="200" cy="255" rx="18" ry="18" fill="#1f4a16" fill-opacity="0.55"/></g><g filter="url(#g3)"><line x1="180" y1="209" x2="180" y2="292" stroke="#8fc860" stroke-opacity="0.26" stroke-width="0.8"/><line x1="186" y1="209" x2="186" y2="292" stroke="#8fc860" stroke-opacity="0.28" stroke-width="0.8"/><line x1="189" y1="209" x2="189" y2="269" stroke="#8fc860" stroke-opacity="0.22" stroke-width="0.8"/><line x1="196" y1="209" x2="196" y2="292" stroke="#8fc860" stroke-opacity="0.26" stroke-width="0.8"/><line x1="202" y1="209" x2="202" y2="292" stroke="#8fc860" stroke-opacity="0.2" stroke-width="0.8"/><line x1="208" y1="209" x2="208" y2="279" stroke="#8fc860" stroke-opacity="0.26" stroke-width="0.8"/><line x1="212" y1="209" x2="212" y2="292" stroke="#8fc860" stroke-opacity="0.18" stroke-width="0.8"/><line x1="216" y1="209" x2="216" y2="292" stroke="#8fc860" stroke-opacity="0.22" stroke-width="0.8"/><line x1="178" y1="215" x2="178" y2="223" stroke="#a0d880" stroke-opacity="0.55" stroke-width="1.1"/><line x1="182" y1="223" x2="182" y2="231" stroke="#a0d880" stroke-opacity="0.5" stroke-width="1.1"/><line x1="188" y1="212" x2="188" y2="219" stroke="#a0d880" stroke-opacity="0.45" stroke-width="1.1"/><line x1="192" y1="229" x2="192" y2="236" stroke="#a0d880" stroke-opacity="0.5" stroke-width="1.1"/><line x1="198" y1="217" x2="198" y2="225" stroke="#a0d880" stroke-opacity="0.45" stroke-width="1.1"/><line x1="204" y1="231" x2="204" y2="239" stroke="#a0d880" stroke-opacity="0.5" stroke-width="1.1"/><line x1="210" y1="221" x2="210" y2="229" stroke="#a0d880" stroke-opacity="0.45" stroke-width="1.1"/><line x1="216" y1="234" x2="216" y2="241" stroke="#a0d880" stroke-opacity="0.4" stroke-width="1.1"/><line x1="194" y1="279" x2="194" y2="287" stroke="#a0d880" stroke-opacity="0.4" stroke-width="1.1"/><line x1="206" y1="277" x2="206" y2="286" stroke="#a0d880" stroke-opacity="0.4" stroke-width="1.1"/><circle cx="208.8" cy="245.6" r="0.90" fill="#98d47c" fill-opacity="0.68"/><circle cx="204.2" cy="239.0" r="0.82" fill="#98d47c" fill-opacity="0.57"/><circle cx="211.6" cy="275.8" r="0.87" fill="#98d47c" fill-opacity="0.59"/><circle cx="198.2" cy="246.0" r="0.79" fill="#98d47c" fill-opacity="0.84"/><circle cx="201.3" cy="256.7" r="0.72" fill="#98d47c" fill-opacity="0.36"/><circle cx="190.9" cy="238.0" r="0.86" fill="#98d47c" fill-opacity="0.90"/><circle cx="209.1" cy="240.0" r="1.05" fill="#98d47c" fill-opacity="0.79"/><circle cx="212.2" cy="271.9" r="0.98" fill="#98d47c" fill-opacity="0.78"/><circle cx="192.4" cy="275.2" r="0.68" fill="#98d47c" fill-opacity="0.76"/><circle cx="211.2" cy="252.3" r="0.87" fill="#98d47c" fill-opacity="0.62"/><circle cx="222.1" cy="254.0" r="1.02" fill="#98d47c" fill-opacity="0.54"/><circle cx="203.5" cy="272.5" r="0.96" fill="#98d47c" fill-opacity="0.62"/><circle cx="185.5" cy="246.3" r="0.95" fill="#98d47c" fill-opacity="0.44"/><circle cx="221.2" cy="243.8" r="1.06" fill="#98d47c" fill-opacity="0.52"/><circle cx="200.9" cy="260.7" r="0.89" fill="#98d47c" fill-opacity="0.52"/><circle cx="184.8" cy="254.5" r="1.07" fill="#98d47c" fill-opacity="0.69"/><circle cx="177.1" cy="260.7" r="0.74" fill="#98d47c" fill-opacity="0.47"/><circle cx="218.4" cy="242.8" r="0.71" fill="#98d47c" fill-opacity="0.83"/><circle cx="196.0" cy="263.5" r="0.62" fill="#98d47c" fill-opacity="0.55"/><circle cx="182.9" cy="261.6" r="0.64" fill="#98d47c" fill-opacity="0.88"/><circle cx="187.3" cy="267.8" r="0.68" fill="#98d47c" fill-opacity="0.45"/><circle cx="210.0" cy="249.0" r="0.62" fill="#98d47c" fill-opacity="0.89"/><circle cx="206.0" cy="264.7" r="0.66" fill="#98d47c" fill-opacity="0.54"/><circle cx="175.6" cy="251.7" r="0.98" fill="#98d47c" fill-opacity="0.76"/><circle cx="220.9" cy="265.2" r="1.03" fill="#98d47c" fill-opacity="0.74"/><circle cx="198.6" cy="241.9" r="0.93" fill="#98d47c" fill-opacity="0.52"/><circle cx="179.3" cy="251.7" r="1.04" fill="#98d47c" fill-opacity="0.42"/><circle cx="204.4" cy="249.3" r="0.86" fill="#98d47c" fill-opacity="0.43"/><circle cx="195.8" cy="232.8" r="0.88" fill="#98d47c" fill-opacity="0.43"/><circle cx="179.0" cy="259.9" r="0.85" fill="#98d47c" fill-opacity="0.89"/><circle cx="197.1" cy="243.0" r="0.90" fill="#98d47c" fill-opacity="0.69"/><circle cx="215.6" cy="263.2" r="0.73" fill="#98d47c" fill-opacity="0.58"/><circle cx="201.4" cy="232.2" r="0.62" fill="#98d47c" fill-opacity="0.57"/><circle cx="179.8" cy="263.8" r="0.72" fill="#98d47c" fill-opacity="0.40"/><circle cx="183.5" cy="242.2" r="0.71" fill="#98d47c" fill-opacity="0.64"/><circle cx="198.1" cy="245.6" r="0.92" fill="#98d47c" fill-opacity="0.47"/><circle cx="196.6" cy="254.5" r="0.89" fill="#98d47c" fill-opacity="0.38"/><circle cx="195.7" cy="255.1" r="0.69" fill="#98d47c" fill-opacity="0.40"/><circle cx="215.7" cy="248.1" r="0.86" fill="#98d47c" fill-opacity="0.86"/><circle cx="205.7" cy="244.7" r="1.09" fill="#98d47c" fill-opacity="0.55"/><circle cx="189.9" cy="269.0" r="0.94" fill="#98d47c" fill-opacity="0.36"/><circle cx="197.5" cy="250.1" r="0.84" fill="#98d47c" fill-opacity="0.46"/><circle cx="204.6" cy="235.2" r="0.74" fill="#98d47c" fill-opacity="0.56"/><circle cx="222.6" cy="235.4" r="0.70" fill="#98d47c" fill-opacity="0.66"/><circle cx="194.4" cy="252.4" r="0.98" fill="#98d47c" fill-opacity="0.57"/><circle cx="218.2" cy="260.2" r="1.08" fill="#98d47c" fill-opacity="0.73"/><circle cx="175.3" cy="261.0" r="0.96" fill="#98d47c" fill-opacity="0.62"/><circle cx="192.6" cy="252.1" r="1.00" fill="#98d47c" fill-opacity="0.50"/><circle cx="201.4" cy="253.0" r="1.08" fill="#98d47c" fill-opacity="0.79"/><circle cx="186.0" cy="253.5" r="0.73" fill="#98d47c" fill-opacity="0.59"/><circle cx="209.3" cy="272.4" r="0.89" fill="#98d47c" fill-opacity="0.80"/><circle cx="179.0" cy="247.7" r="1.10" fill="#98d47c" fill-opacity="0.43"/><circle cx="195.7" cy="234.9" r="0.64" fill="#98d47c" fill-opacity="0.84"/><circle cx="189.4" cy="242.2" r="0.94" fill="#98d47c" fill-opacity="0.72"/><circle cx="196.8" cy="255.1" r="0.66" fill="#98d47c" fill-opacity="0.65"/><circle cx="200.9" cy="263.5" r="0.73" fill="#98d47c" fill-opacity="0.84"/><circle cx="198.0" cy="262.9" r="0.80" fill="#98d47c" fill-opacity="0.90"/><circle cx="214.7" cy="257.2" r="0.67" fill="#98d47c" fill-opacity="0.59"/><circle cx="175.5" cy="258.2" r="1.04" fill="#98d47c" fill-opacity="0.45"/><circle cx="200.5" cy="253.2" r="0.80" fill="#98d47c" fill-opacity="0.74"/><circle cx="222.7" cy="263.0" r="0.84" fill="#98d47c" fill-opacity="0.88"/><circle cx="191.2" cy="264.8" r="0.93" fill="#98d47c" fill-opacity="0.77"/><circle cx="218.3" cy="241.9" r="0.91" fill="#98d47c" fill-opacity="0.57"/><circle cx="174.6" cy="252.4" r="0.96" fill="#98d47c" fill-opacity="0.84"/><circle cx="207.8" cy="267.9" r="0.61" fill="#98d47c" fill-opacity="0.87"/><circle cx="211.9" cy="258.7" r="1.05" fill="#98d47c" fill-opacity="0.84"/><circle cx="179.2" cy="267.9" r="0.70" fill="#98d47c" fill-opacity="0.76"/><circle cx="204.5" cy="240.4" r="1.00" fill="#98d47c" fill-opacity="0.43"/><circle cx="205.8" cy="251.1" r="0.73" fill="#98d47c" fill-opacity="0.66"/><circle cx="198.3" cy="241.0" r="1.08" fill="#98d47c" fill-opacity="0.39"/><circle cx="174.2" cy="253.4" r="1.02" fill="#98d47c" fill-opacity="0.71"/><circle cx="213.2" cy="253.3" r="0.94" fill="#98d47c" fill-opacity="0.53"/><circle cx="187.9" cy="254.1" r="0.61" fill="#98d47c" fill-opacity="0.39"/><circle cx="213.2" cy="239.6" r="0.98" fill="#98d47c" fill-opacity="0.78"/><circle cx="195.0" cy="261.7" r="0.99" fill="#98d47c" fill-opacity="0.83"/><circle cx="181.0" cy="239.2" r="0.79" fill="#98d47c" fill-opacity="0.61"/><circle cx="224.3" cy="248.1" r="0.87" fill="#98d47c" fill-opacity="0.56"/><circle cx="197.0" cy="270.3" r="0.75" fill="#98d47c" fill-opacity="0.71"/><circle cx="199.2" cy="255.7" r="1.06" fill="#98d47c" fill-opacity="0.39"/><circle cx="216.9" cy="245.4" r="0.92" fill="#98d47c" fill-opacity="0.79"/><circle cx="208.0" cy="249.3" r="1.02" fill="#98d47c" fill-opacity="0.40"/><circle cx="206.9" cy="249.2" r="0.87" fill="#98d47c" fill-opacity="0.82"/><circle cx="215.5" cy="259.7" r="0.75" fill="#98d47c" fill-opacity="0.48"/><circle cx="197.8" cy="242.2" r="0.74" fill="#98d47c" fill-opacity="0.88"/><circle cx="193.0" cy="246.0" r="0.64" fill="#98d47c" fill-opacity="0.60"/><circle cx="182.7" cy="251.4" r="0.75" fill="#98d47c" fill-opacity="0.84"/><circle cx="221.9" cy="251.4" r="0.92" fill="#98d47c" fill-opacity="0.86"/><circle cx="191.0" cy="236.4" r="0.72" fill="#98d47c" fill-opacity="0.45"/><circle cx="209.3" cy="248.4" r="0.78" fill="#98d47c" fill-opacity="0.79"/><circle cx="186.1" cy="267.6" r="0.92" fill="#98d47c" fill-opacity="0.57"/><circle cx="216.8" cy="247.1" r="1.04" fill="#98d47c" fill-opacity="0.86"/><circle cx="200.1" cy="262.4" r="1.07" fill="#98d47c" fill-opacity="0.76"/><circle cx="213.1" cy="270.2" r="1.07" fill="#98d47c" fill-opacity="0.76"/><circle cx="208.9" cy="248.2" r="0.80" fill="#98d47c" fill-opacity="0.45"/><circle cx="223.8" cy="247.6" r="0.84" fill="#98d47c" fill-opacity="0.84"/><circle cx="175.5" cy="247.4" r="0.78" fill="#98d47c" fill-opacity="0.85"/><circle cx="219.9" cy="265.5" r="0.82" fill="#98d47c" fill-opacity="0.65"/><circle cx="186.3" cy="268.7" r="0.79" fill="#98d47c" fill-opacity="0.51"/><circle cx="207.2" cy="238.6" r="0.76" fill="#98d47c" fill-opacity="0.86"/><circle cx="187.1" cy="250.5" r="0.73" fill="#98d47c" fill-opacity="0.54"/><circle cx="186.8" cy="242.6" r="0.91" fill="#98d47c" fill-opacity="0.54"/><circle cx="193.4" cy="265.8" r="0.63" fill="#98d47c" fill-opacity="0.43"/><circle cx="218.2" cy="250.9" r="0.99" fill="#98d47c" fill-opacity="0.42"/><circle cx="201.2" cy="269.2" r="0.77" fill="#98d47c" fill-opacity="0.77"/><circle cx="205.7" cy="249.4" r="1.10" fill="#98d47c" fill-opacity="0.57"/><circle cx="198.6" cy="259.3" r="0.76" fill="#98d47c" fill-opacity="0.81"/><circle cx="205.1" cy="257.9" r="0.87" fill="#98d47c" fill-opacity="0.89"/><circle cx="195.4" cy="255.1" r="0.62" fill="#98d47c" fill-opacity="0.41"/><circle cx="225.8" cy="237.6" r="0.94" fill="#98d47c" fill-opacity="0.85"/><circle cx="178.0" cy="245.5" r="1.00" fill="#98d47c" fill-opacity="0.35"/><circle cx="179.5" cy="247.4" r="0.69" fill="#98d47c" fill-opacity="0.43"/><circle cx="208.8" cy="236.0" r="1.09" fill="#98d47c" fill-opacity="0.71"/><circle cx="199.0" cy="256.6" r="0.67" fill="#98d47c" fill-opacity="0.63"/><circle cx="177.1" cy="240.8" r="1.01" fill="#98d47c" fill-opacity="0.64"/><circle cx="209.5" cy="270.5" r="0.67" fill="#98d47c" fill-opacity="0.62"/><circle cx="193.7" cy="259.4" r="1.03" fill="#98d47c" fill-opacity="0.85"/><circle cx="211.3" cy="254.3" r="1.06" fill="#98d47c" fill-opacity="0.44"/><circle cx="184.9" cy="248.6" r="0.75" fill="#98d47c" fill-opacity="0.59"/><circle cx="196.2" cy="249.5" r="1.00" fill="#98d47c" fill-opacity="0.80"/><circle cx="203.2" cy="252.8" r="0.74" fill="#98d47c" fill-opacity="0.77"/><circle cx="210.4" cy="261.0" r="0.62" fill="#98d47c" fill-opacity="0.65"/><circle cx="184.5" cy="240.6" r="0.89" fill="#98d47c" fill-opacity="0.70"/><circle cx="206.5" cy="264.7" r="0.95" fill="#98d47c" fill-opacity="0.61"/><circle cx="176.5" cy="266.0" r="1.02" fill="#98d47c" fill-opacity="0.68"/><circle cx="207.1" cy="255.9" r="0.69" fill="#98d47c" fill-opacity="0.88"/><circle cx="189.2" cy="241.2" r="1.01" fill="#98d47c" fill-opacity="0.74"/><circle cx="188.4" cy="271.7" r="0.88" fill="#98d47c" fill-opacity="0.58"/><circle cx="195.6" cy="263.7" r="0.83" fill="#98d47c" fill-opacity="0.71"/><circle cx="180.3" cy="262.9" r="0.74" fill="#98d47c" fill-opacity="0.85"/><circle cx="185.1" cy="246.7" r="0.87" fill="#98d47c" fill-opacity="0.57"/><circle cx="201.3" cy="272.6" r="0.70" fill="#98d47c" fill-opacity="0.77"/><circle cx="210.1" cy="266.6" r="0.82" fill="#98d47c" fill-opacity="0.60"/><circle cx="192.0" cy="252.8" r="0.73" fill="#98d47c" fill-opacity="0.45"/><circle cx="198.8" cy="240.5" r="0.83" fill="#98d47c" fill-opacity="0.67"/><circle cx="190.1" cy="239.5" r="0.90" fill="#98d47c" fill-opacity="0.82"/><circle cx="185.6" cy="259.1" r="0.93" fill="#98d47c" fill-opacity="0.84"/><circle cx="209.5" cy="245.5" r="0.70" fill="#98d47c" fill-opacity="0.81"/><circle cx="189.6" cy="232.6" r="0.70" fill="#98d47c" fill-opacity="0.52"/><circle cx="190.6" cy="243.3" r="0.96" fill="#98d47c" fill-opacity="0.54"/><circle cx="196.9" cy="250.5" r="1.02" fill="#98d47c" fill-opacity="0.36"/><circle cx="204.1" cy="237.8" r="0.68" fill="#98d47c" fill-opacity="0.68"/><circle cx="193.5" cy="234.9" r="0.89" fill="#98d47c" fill-opacity="0.85"/><circle cx="207.5" cy="253.8" r="1.00" fill="#98d47c" fill-opacity="0.85"/><circle cx="181.9" cy="245.2" r="1.08" fill="#98d47c" fill-opacity="0.86"/><circle cx="184.6" cy="263.0" r="1.04" fill="#98d47c" fill-opacity="0.68"/><circle cx="210.5" cy="255.1" r="0.72" fill="#98d47c" fill-opacity="0.47"/><circle cx="177.2" cy="261.3" r="0.67" fill="#98d47c" fill-opacity="0.69"/><circle cx="194.3" cy="251.2" r="1.09" fill="#98d47c" fill-opacity="0.57"/><circle cx="198.7" cy="248.7" r="0.71" fill="#98d47c" fill-opacity="0.47"/><circle cx="201.7" cy="268.0" r="0.65" fill="#98d47c" fill-opacity="0.87"/><circle cx="209.1" cy="234.4" r="0.95" fill="#98d47c" fill-opacity="0.57"/><circle cx="200.8" cy="236.4" r="0.86" fill="#98d47c" fill-opacity="0.64"/><circle cx="214.7" cy="257.6" r="0.95" fill="#98d47c" fill-opacity="0.75"/><circle cx="202.0" cy="259.1" r="0.92" fill="#98d47c" fill-opacity="0.87"/><circle cx="179.3" cy="256.6" r="0.64" fill="#98d47c" fill-opacity="0.72"/><circle cx="196.7" cy="238.2" r="0.76" fill="#98d47c" fill-opacity="0.71"/><circle cx="198.6" cy="273.6" r="0.78" fill="#98d47c" fill-opacity="0.54"/><circle cx="222.0" cy="258.7" r="0.65" fill="#98d47c" fill-opacity="0.78"/><circle cx="192.9" cy="273.7" r="0.92" fill="#98d47c" fill-opacity="0.79"/><circle cx="220.6" cy="254.4" r="1.08" fill="#98d47c" fill-opacity="0.36"/><circle cx="191.7" cy="268.9" r="0.60" fill="#98d47c" fill-opacity="0.72"/><circle cx="226.0" cy="263.5" r="0.64" fill="#98d47c" fill-opacity="0.65"/><circle cx="205.7" cy="251.2" r="0.81" fill="#98d47c" fill-opacity="0.78"/><circle cx="189.3" cy="271.8" r="0.62" fill="#98d47c" fill-opacity="0.49"/><circle cx="215.0" cy="271.4" r="0.80" fill="#98d47c" fill-opacity="0.85"/><circle cx="179.8" cy="258.3" r="0.63" fill="#98d47c" fill-opacity="0.48"/><circle cx="200.0" cy="244.4" r="0.93" fill="#98d47c" fill-opacity="0.38"/><circle cx="200.9" cy="255.2" r="0.80" fill="#98d47c" fill-opacity="0.85"/><circle cx="180.6" cy="250.8" r="0.83" fill="#98d47c" fill-opacity="0.56"/><circle cx="224.6" cy="257.2" r="0.86" fill="#98d47c" fill-opacity="0.59"/><circle cx="196.7" cy="273.8" r="1.00" fill="#98d47c" fill-opacity="0.71"/><circle cx="182.4" cy="258.2" r="0.66" fill="#98d47c" fill-opacity="0.54"/><circle cx="175.2" cy="263.0" r="0.92" fill="#98d47c" fill-opacity="0.66"/><circle cx="187.0" cy="251.5" r="0.83" fill="#98d47c" fill-opacity="0.58"/><circle cx="188.0" cy="241.7" r="0.98" fill="#98d47c" fill-opacity="0.87"/><circle cx="216.7" cy="259.3" r="0.61" fill="#98d47c" fill-opacity="0.52"/><circle cx="203.6" cy="262.2" r="0.72" fill="#98d47c" fill-opacity="0.74"/><circle cx="193.0" cy="269.3" r="0.83" fill="#98d47c" fill-opacity="0.71"/><circle cx="202.9" cy="255.5" r="0.83" fill="#98d47c" fill-opacity="0.87"/><circle cx="213.2" cy="250.5" r="0.85" fill="#98d47c" fill-opacity="0.84"/><circle cx="212.8" cy="260.7" r="1.08" fill="#98d47c" fill-opacity="0.41"/><circle cx="205.1" cy="259.5" r="0.83" fill="#98d47c" fill-opacity="0.88"/><circle cx="224.3" cy="249.2" r="0.91" fill="#98d47c" fill-opacity="0.77"/><circle cx="210.2" cy="248.0" r="1.00" fill="#98d47c" fill-opacity="0.54"/><circle cx="181.6" cy="261.2" r="0.92" fill="#98d47c" fill-opacity="0.57"/><circle cx="199.9" cy="275.5" r="1.00" fill="#98d47c" fill-opacity="0.57"/><circle cx="221.4" cy="257.1" r="0.80" fill="#98d47c" fill-opacity="0.71"/><circle cx="214.7" cy="271.4" r="0.94" fill="#98d47c" fill-opacity="0.72"/><circle cx="194.8" cy="233.8" r="0.83" fill="#98d47c" fill-opacity="0.41"/><circle cx="223.0" cy="247.9" r="0.90" fill="#98d47c" fill-opacity="0.75"/><circle cx="183.3" cy="268.7" r="0.76" fill="#98d47c" fill-opacity="0.39"/></g></g><text x="147.8" y="290.6" font-size="6.6" fill="#f0f0f0" textLength="19" lengthAdjust="spacingAndGlyphs" style="stroke:none">30 min</text><line x1="234" y1="288.4" x2="261.6" y2="288.4" stroke="#f4f4f4" stroke-width="1.7"/><text x="75.8" y="303.1" font-size="11.0" text-anchor="middle" font-weight="normal" font-style="normal" fill="#1a1a1a" textLength="30.9" lengthAdjust="spacingAndGlyphs" >GF WT</text><text transform="translate(182.3,305.6) scale(0.9,1)" font-size="11.0" text-anchor="start" fill="#1a1a1a"><tspan>GF </tspan><tspan font-style="italic">Tlr2</tspan><tspan font-size="5.72" dy="-4.4">&#8722;/&#8722;</tspan></text><line x1="317.3" y1="199.6" x2="317.3" y2="344.7" stroke="#111" stroke-width="1.35"/><line x1="314.6" y1="344.70" x2="317.3" y2="344.70" stroke="#111" stroke-width="1.35"/><text transform="translate(311.3,347.7) scale(0.88,1)" font-size="8.7" text-anchor="end" font-weight="normal" font-style="normal" fill="#1a1a1a" >0</text><line x1="314.6" y1="320.95" x2="317.3" y2="320.95" stroke="#111" stroke-width="1.35"/><text transform="translate(311.3,323.95) scale(0.88,1)" font-size="8.7" text-anchor="end" font-weight="normal" font-style="normal" fill="#1a1a1a" >2,000</text><line x1="314.6" y1="297.20" x2="317.3" y2="297.20" stroke="#111" stroke-width="1.35"/><text transform="translate(311.3,300.2) scale(0.88,1)" font-size="8.7" text-anchor="end" font-weight="normal" font-style="normal" fill="#1a1a1a" >4,000</text><line x1="314.6" y1="273.45" x2="317.3" y2="273.45" stroke="#111" stroke-width="1.35"/><text transform="translate(311.3,276.45) scale(0.88,1)" font-size="8.7" text-anchor="end" font-weight="normal" font-style="normal" fill="#1a1a1a" >6,000</text><line x1="314.6" y1="249.70" x2="317.3" y2="249.70" stroke="#111" stroke-width="1.35"/><text transform="translate(311.3,252.7) scale(0.88,1)" font-size="8.7" text-anchor="end" font-weight="normal" font-style="normal" fill="#1a1a1a" >8,000</text><line x1="314.6" y1="225.95" x2="317.3" y2="225.95" stroke="#111" stroke-width="1.35"/><text transform="translate(311.3,228.95) scale(0.88,1)" font-size="8.7" text-anchor="end" font-weight="normal" font-style="normal" fill="#1a1a1a" >10,000</text><line x1="314.6" y1="202.20" x2="317.3" y2="202.20" stroke="#111" stroke-width="1.35"/><text transform="translate(311.3,205.2) scale(0.88,1)" font-size="8.7" text-anchor="end" font-weight="normal" font-style="normal" fill="#1a1a1a" >12,000</text><line x1="316.7" y1="344.7" x2="463.6" y2="344.7" stroke="#111" stroke-width="1.35"/><line x1="317.30" y1="344.7" x2="317.30" y2="347.7" stroke="#111" stroke-width="1.35"/><text transform="translate(317.30,358.3) scale(0.87,1)" font-size="8.9" text-anchor="middle" font-weight="normal" font-style="normal" fill="#1a1a1a" >0</text><line x1="341.30" y1="344.7" x2="341.30" y2="347.7" stroke="#111" stroke-width="1.35"/><text transform="translate(341.30,358.3) scale(0.87,1)" font-size="8.9" text-anchor="middle" font-weight="normal" font-style="normal" fill="#1a1a1a" >5</text><line x1="365.30" y1="344.7" x2="365.30" y2="347.7" stroke="#111" stroke-width="1.35"/><text transform="translate(365.30,358.3) scale(0.87,1)" font-size="8.9" text-anchor="middle" font-weight="normal" font-style="normal" fill="#1a1a1a" >10</text><line x1="389.30" y1="344.7" x2="389.30" y2="347.7" stroke="#111" stroke-width="1.35"/><text transform="translate(389.30,358.3) scale(0.87,1)" font-size="8.9" text-anchor="middle" font-weight="normal" font-style="normal" fill="#1a1a1a" >15</text><line x1="413.30" y1="344.7" x2="413.30" y2="347.7" stroke="#111" stroke-width="1.35"/><text transform="translate(413.30,358.3) scale(0.87,1)" font-size="8.9" text-anchor="middle" font-weight="normal" font-style="normal" fill="#1a1a1a" >20</text><line x1="437.30" y1="344.7" x2="437.30" y2="347.7" stroke="#111" stroke-width="1.35"/><text transform="translate(437.30,358.3) scale(0.87,1)" font-size="8.9" text-anchor="middle" font-weight="normal" font-style="normal" fill="#1a1a1a" >25</text><line x1="461.30" y1="344.7" x2="461.30" y2="347.7" stroke="#111" stroke-width="1.35"/><text transform="translate(461.30,358.3) scale(0.87,1)" font-size="8.9" text-anchor="middle" font-weight="normal" font-style="normal" fill="#1a1a1a" >30</text><text x="390.6" y="371.0" font-size="10.1" text-anchor="middle" font-weight="normal" font-style="normal" fill="#1a1a1a" textLength="86.5" lengthAdjust="spacingAndGlyphs" >Time after injury (min)</text><text transform="translate(281.3,271.5) rotate(-90)" font-size="9.8" text-anchor="middle" fill="#1a1a1a" textLength="138.5" lengthAdjust="spacingAndGlyphs" xml:space="preserve">Number of adhering  platelets /mm<tspan font-size="6.2" dy="-3.8">2</tspan></text><line x1="341.30" y1="276.81" x2="341.30" y2="285.60" stroke="#862040" stroke-width="1.1"/><line x1="339.50" y1="276.81" x2="343.10" y2="276.81" stroke="#862040" stroke-width="1.1"/><line x1="339.50" y1="285.60" x2="343.10" y2="285.60" stroke="#862040" stroke-width="1.1"/><line x1="365.30" y1="257.28" x2="365.30" y2="271.53" stroke="#862040" stroke-width="1.1"/><line x1="363.50" y1="257.28" x2="367.10" y2="257.28" stroke="#862040" stroke-width="1.1"/><line x1="363.50" y1="271.53" x2="367.10" y2="271.53" stroke="#862040" stroke-width="1.1"/><line x1="389.30" y1="233.19" x2="389.30" y2="248.20" stroke="#862040" stroke-width="1.1"/><line x1="387.50" y1="233.19" x2="391.10" y2="233.19" stroke="#862040" stroke-width="1.1"/><line x1="387.50" y1="248.20" x2="391.10" y2="248.20" stroke="#862040" stroke-width="1.1"/><line x1="413.30" y1="229.48" x2="413.30" y2="244.91" stroke="#862040" stroke-width="1.1"/><line x1="411.50" y1="229.48" x2="415.10" y2="229.48" stroke="#862040" stroke-width="1.1"/><line x1="411.50" y1="244.91" x2="415.10" y2="244.91" stroke="#862040" stroke-width="1.1"/><line x1="437.30" y1="216.19" x2="437.30" y2="236.61" stroke="#862040" stroke-width="1.1"/><line x1="435.50" y1="216.19" x2="439.10" y2="216.19" stroke="#862040" stroke-width="1.1"/><line x1="435.50" y1="236.61" x2="439.10" y2="236.61" stroke="#862040" stroke-width="1.1"/><line x1="461.30" y1="211.79" x2="461.30" y2="230.20" stroke="#862040" stroke-width="1.1"/><line x1="459.50" y1="211.79" x2="463.10" y2="211.79" stroke="#862040" stroke-width="1.1"/><line x1="459.50" y1="230.20" x2="463.10" y2="230.20" stroke="#862040" stroke-width="1.1"/><polyline points="317.30,344.70 341.30,281.20 365.30,264.40 389.30,240.70 413.30,237.20 437.30,226.40 461.30,221.00" fill="none" stroke="#9a1338" stroke-width="1.4" stroke-linejoin="round"/><line x1="341.30" y1="259.70" x2="341.30" y2="279.51" stroke="#6f9c5c" stroke-width="1.1"/><line x1="339.50" y1="259.70" x2="343.10" y2="259.70" stroke="#6f9c5c" stroke-width="1.1"/><line x1="339.50" y1="279.51" x2="343.10" y2="279.51" stroke="#6f9c5c" stroke-width="1.1"/><line x1="365.30" y1="246.43" x2="365.30" y2="264.96" stroke="#6f9c5c" stroke-width="1.1"/><line x1="363.50" y1="246.43" x2="367.10" y2="246.43" stroke="#6f9c5c" stroke-width="1.1"/><line x1="363.50" y1="264.96" x2="367.10" y2="264.96" stroke="#6f9c5c" stroke-width="1.1"/><line x1="389.30" y1="238.30" x2="389.30" y2="250.89" stroke="#6f9c5c" stroke-width="1.1"/><line x1="387.50" y1="238.30" x2="391.10" y2="238.30" stroke="#6f9c5c" stroke-width="1.1"/><line x1="387.50" y1="250.89" x2="391.10" y2="250.89" stroke="#6f9c5c" stroke-width="1.1"/><line x1="413.30" y1="227.28" x2="413.30" y2="238.92" stroke="#6f9c5c" stroke-width="1.1"/><line x1="411.50" y1="227.28" x2="415.10" y2="227.28" stroke="#6f9c5c" stroke-width="1.1"/><line x1="411.50" y1="238.92" x2="415.10" y2="238.92" stroke="#6f9c5c" stroke-width="1.1"/><line x1="437.30" y1="212.01" x2="437.30" y2="221.60" stroke="#6f9c5c" stroke-width="1.1"/><line x1="435.50" y1="212.01" x2="439.10" y2="212.01" stroke="#6f9c5c" stroke-width="1.1"/><line x1="435.50" y1="221.60" x2="439.10" y2="221.60" stroke="#6f9c5c" stroke-width="1.1"/><line x1="461.30" y1="202.51" x2="461.30" y2="215.10" stroke="#6f9c5c" stroke-width="1.1"/><line x1="459.50" y1="202.51" x2="463.10" y2="202.51" stroke="#6f9c5c" stroke-width="1.1"/><line x1="459.50" y1="215.10" x2="463.10" y2="215.10" stroke="#6f9c5c" stroke-width="1.1"/><polyline points="317.30,344.70 341.30,269.60 365.30,255.70 389.30,244.59 413.30,233.10 437.30,216.81 461.30,208.80" fill="none" stroke="#68a846" stroke-width="1.4" stroke-linejoin="round"/><circle cx="317.30" cy="344.70" r="1.9" fill="#9a1338"/><circle cx="341.30" cy="281.20" r="1.9" fill="#9a1338"/><circle cx="365.30" cy="264.40" r="1.9" fill="#9a1338"/><circle cx="389.30" cy="240.70" r="1.9" fill="#9a1338"/><circle cx="413.30" cy="237.20" r="1.9" fill="#9a1338"/><circle cx="437.30" cy="226.40" r="1.9" fill="#9a1338"/><circle cx="461.30" cy="221.00" r="1.9" fill="#9a1338"/><rect x="315.50" y="342.90" width="3.6" height="3.6" fill="#68a846"/><rect x="339.50" y="267.80" width="3.6" height="3.6" fill="#68a846"/><rect x="363.50" y="253.90" width="3.6" height="3.6" fill="#68a846"/><rect x="387.50" y="242.79" width="3.6" height="3.6" fill="#68a846"/><rect x="411.50" y="231.30" width="3.6" height="3.6" fill="#68a846"/><rect x="435.50" y="215.01" width="3.6" height="3.6" fill="#68a846"/><rect x="459.50" y="207.00" width="3.6" height="3.6" fill="#68a846"/><text transform="translate(341.8,256.2) scale(0.93,1)" font-size="7.4" text-anchor="middle" font-weight="normal" font-style="normal" fill="#1a1a1a" >n.s.</text><text transform="translate(365.4,242.0) scale(0.93,1)" font-size="7.4" text-anchor="middle" font-weight="normal" font-style="normal" fill="#1a1a1a" >n.s.</text><text transform="translate(389.6,230.2) scale(0.93,1)" font-size="7.4" text-anchor="middle" font-weight="normal" font-style="normal" fill="#1a1a1a" >n.s.</text><text transform="translate(413.4,221.7) scale(0.93,1)" font-size="7.4" text-anchor="middle" font-weight="normal" font-style="normal" fill="#1a1a1a" >n.s.</text><text transform="translate(436.6,207.89999999999998) scale(0.93,1)" font-size="7.4" text-anchor="middle" font-weight="normal" font-style="normal" fill="#1a1a1a" >n.s.</text><text transform="translate(460.4,199.1) scale(0.93,1)" font-size="7.4" text-anchor="middle" font-weight="normal" font-style="normal" fill="#1a1a1a" >n.s.</text><line x1="420.5" y1="318.2" x2="431" y2="318.2" stroke="#a3002b" stroke-width="1.5"/><circle cx="425.7" cy="318.2" r="1.8" fill="#a3002b"/><text x="434.0" y="320.9" font-size="8.9" text-anchor="start" font-weight="normal" font-style="normal" fill="#1a1a1a" textLength="23.8" lengthAdjust="spacingAndGlyphs" >GF WT</text><line x1="420.5" y1="330.4" x2="431" y2="330.4" stroke="#68a846" stroke-width="1.5"/><rect x="424" y="328.7" width="3.4" height="3.4" fill="#68a846"/><text transform="translate(434.0,333.1) scale(0.88,1)" font-size="8.9" text-anchor="start" fill="#1a1a1a"><tspan>GF </tspan><tspan font-style="italic">Tlr2</tspan><tspan font-size="4.63" dy="-3.6">&#8722;/&#8722;</tspan></text>
</g>
</svg></body></html>
